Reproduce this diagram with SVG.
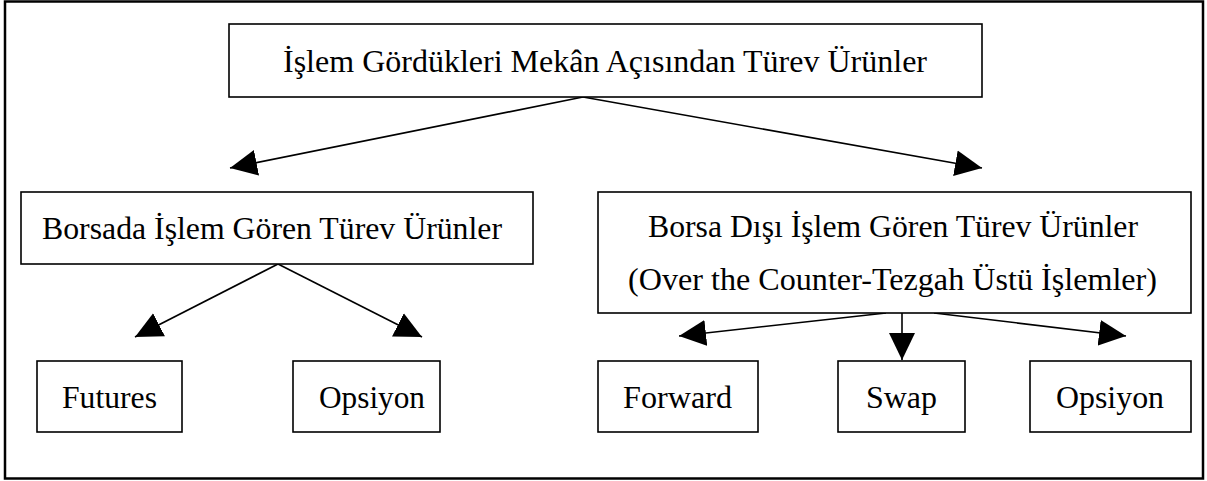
<svg xmlns="http://www.w3.org/2000/svg" width="1207" height="481" viewBox="0 0 1207 481">
<style>
.box{fill:#fff;stroke:#000;stroke-width:1.6}
.t{font-family:"Liberation Serif","Times New Roman",serif;font-size:32px;fill:#000;text-anchor:middle}
.c{stroke:#000;stroke-width:1.6;fill:none;marker-end:url(#ah)}
</style>
<defs>
<marker id="ah" markerUnits="userSpaceOnUse" markerWidth="28" markerHeight="28" refX="27" refY="13" orient="auto" viewBox="0 0 28 26">
<path d="M0,0 L27,13 L0,26 z" fill="#000"/>
</marker>
</defs>
<rect x="5" y="1.5" width="1198" height="477" fill="#fff" stroke="#000" stroke-width="2.5"/>
<g id="connectors">
<line class="c" x1="583" y1="97" x2="230" y2="168"/>
<line class="c" x1="583" y1="97" x2="982" y2="168"/>
<line class="c" x1="278" y1="264" x2="135" y2="337"/>
<line class="c" x1="278" y1="264" x2="422" y2="337"/>
<line class="c" x1="886" y1="313" x2="679" y2="336"/>
<line class="c" x1="902" y1="313" x2="902" y2="360"/>
<line class="c" x1="934" y1="313" x2="1126" y2="336"/>
</g>
<g id="top"><rect class="box" x="229" y="24" width="753" height="73"/><text class="t" x="605" y="72" textLength="644" lengthAdjust="spacingAndGlyphs">İşlem Gördükleri Mekân Açısından Türev Ürünler</text></g>
<g id="borsada"><rect class="box" x="21" y="192" width="512" height="72"/><text class="t" x="272" y="239" textLength="460" lengthAdjust="spacingAndGlyphs">Borsada İşlem Gören Türev Ürünler</text></g>
<g id="borsadisi"><rect class="box" x="598" y="192" width="593" height="121"/><text class="t" x="893" y="237" textLength="490" lengthAdjust="spacingAndGlyphs">Borsa Dışı İşlem Gören Türev Ürünler</text><text class="t" x="892.5" y="290" textLength="529" lengthAdjust="spacingAndGlyphs">(Over the Counter-Tezgah Üstü İşlemler)</text></g>
<g id="futures"><rect class="box" x="37" y="361" width="145" height="71"/><text class="t" x="109.5" y="408" textLength="95" lengthAdjust="spacingAndGlyphs">Futures</text></g>
<g id="opsiyon1"><rect class="box" x="293" y="361" width="147" height="71"/><text class="t" x="372" y="408" textLength="106" lengthAdjust="spacingAndGlyphs">Opsiyon</text></g>
<g id="forward"><rect class="box" x="598" y="361" width="160" height="71"/><text class="t" x="677.5" y="408" textLength="109" lengthAdjust="spacingAndGlyphs">Forward</text></g>
<g id="swap"><rect class="box" x="838" y="361" width="127" height="71"/><text class="t" x="901.5" y="408" textLength="71" lengthAdjust="spacingAndGlyphs">Swap</text></g>
<g id="opsiyon2"><rect class="box" x="1030" y="361" width="161" height="71"/><text class="t" x="1110" y="408" textLength="108" lengthAdjust="spacingAndGlyphs">Opsiyon</text></g>
</svg>
